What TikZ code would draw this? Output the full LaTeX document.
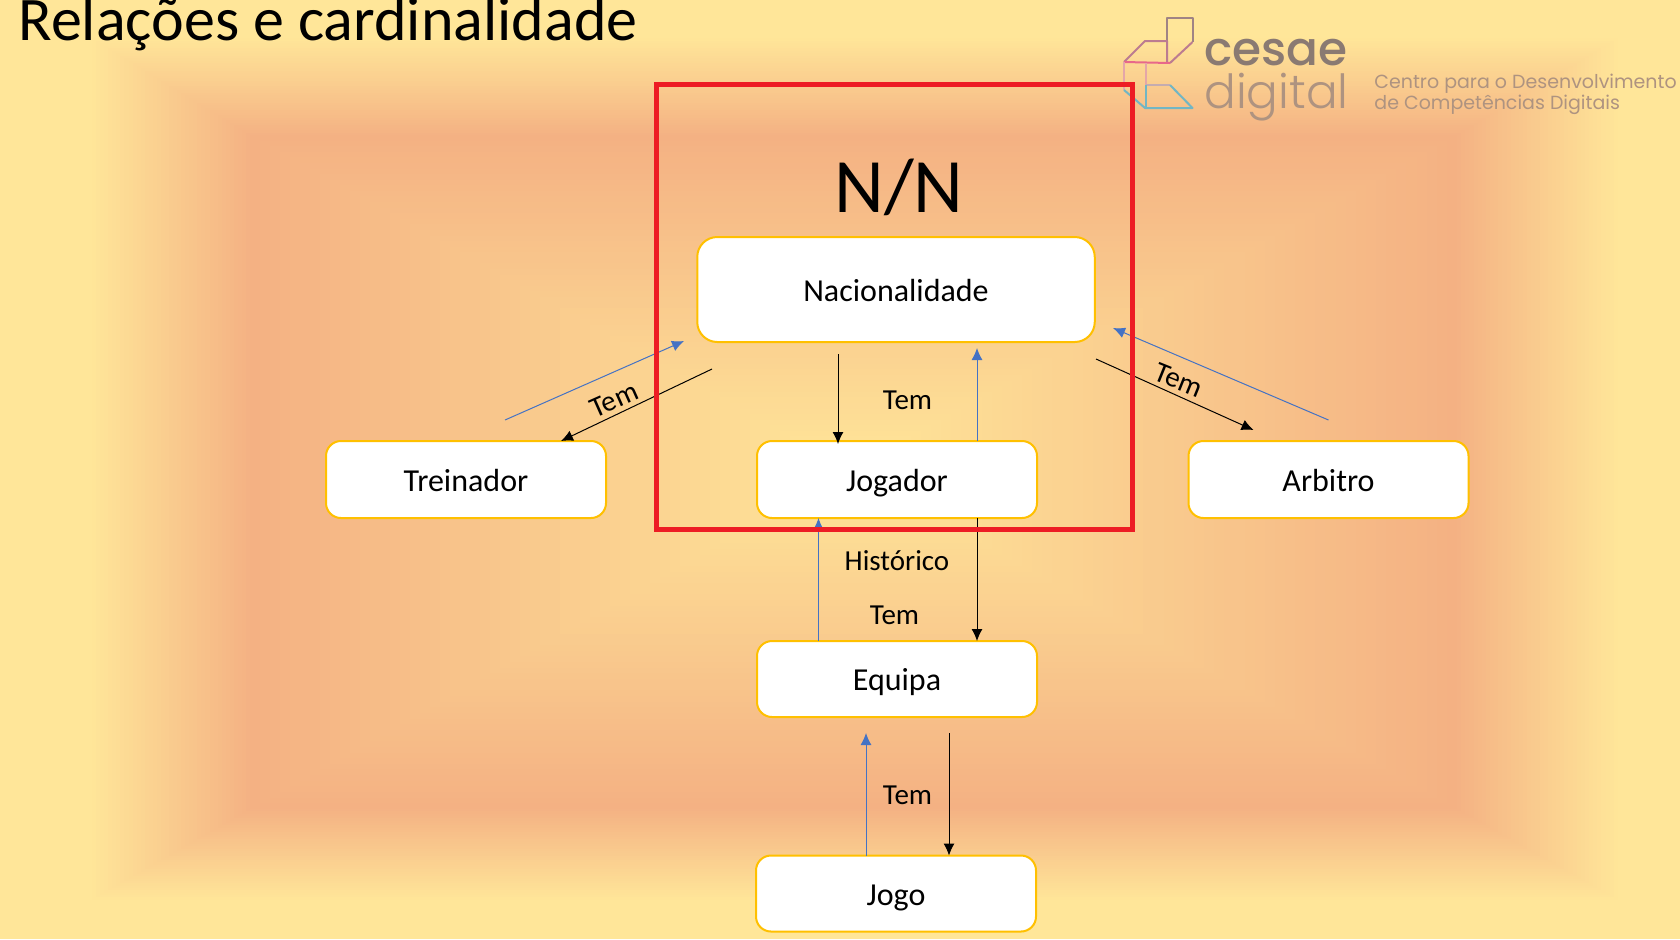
\documentclass[tikz,border=0pt]{standalone}
\usepackage{fontspec}
\setmainfont{Carlito}
\newfontfamily\logofont{Poppins Medium}
\newfontfamily\logolight{Poppins Light}
\newfontfamily\logotext{Poppins}
\usetikzlibrary{arrows.meta}
\definecolor{bglight}{HTML}{FFE699}
\definecolor{bgdark}{HTML}{F4B183}
\definecolor{boxline}{HTML}{FFC000}
\definecolor{arrowblue}{HTML}{4472C4}
\definecolor{framered}{HTML}{ED1C24}
\definecolor{logogrey}{HTML}{8A7A72}
\definecolor{logotan}{HTML}{AE9380}
\definecolor{logotop}{HTML}{A08484}
\definecolor{logomid}{HTML}{BC7C90}
\definecolor{logopink}{HTML}{E8688A}
\definecolor{logorose}{HTML}{E4A6A8}
\definecolor{logohaze}{HTML}{C4ACB0}
\definecolor{logoteal}{HTML}{72B6C4}
\tikzset{
  box/.style={draw=boxline, fill=white, line width=1pt, rounded corners=7.5pt, outer sep=0pt, text height=11.8pt, text depth=0pt, font=\fontsize{16}{18}\selectfont},
  lbl/.style={font=\fontsize{14.5}{17}\selectfont},
  bluearrow/.style={draw=arrowblue, line width=.5pt, -{Latex[length=6pt,width=5.5pt]}},
  blackarrow/.style={draw=black, line width=.5pt, -{Latex[length=6pt,width=5.5pt]}},
  logoline/.style={line width=1pt, line join=round}
}
\begin{document}
\begin{tikzpicture}[x=.5pt,y=-.5pt]
  \useasboundingbox (0,0) rectangle (1680,939);
  % Draw background
  \fill[bglight] (0,0) rectangle (1680,939);
  \foreach \i [evaluate=\i as \p using \i*2.5] in {0,...,40}
    \fill[bgdark!\p!bglight] (88+4.05*\i,36+2.475*\i) rectangle (1622-4.125*\i,902-2.325*\i);
  \foreach \i [evaluate=\i as \p using 100-\i*100/60] in {0,...,60}
    \fill[bgdark!\p!bglight] (250+10*\i,135+5.583*\i) rectangle (1457-10.117*\i,809-5.65*\i);

  % Draw logo
  \draw[logoline,logotop] (1167,41) -- (1167,18) -- (1192.5,18) -- (1192.5,42);
  \draw[logoline,logomid] (1192.5,42) -- (1170,63);
  \draw[logoline,logomid] (1124,62) -- (1145,41) -- (1167,41) -- (1167,63);
  \draw[logoline,logopink] (1124,62) -- (1170,63);
  \draw[logoline,logorose] (1124,62) -- (1124,90);
  \draw[logoline,logorose] (1146,63) -- (1146,85);
  \draw[logoline,logohaze] (1146,85) -- (1170,85);
  \draw[logoline,logoteal] (1170,85) -- (1192.5,108) -- (1145,108) -- (1124,90);
  \draw[logoline,logoteal] (1146,85) -- (1146,108);
  \node[anchor=base west,inner sep=0pt,text=logogrey] (cesae) at (1204,65) {\logofont\fontsize{23.5}{25}\selectfont cesae};
  \node[anchor=base west,inner sep=0pt,text=logotan] (digital) at (1204,108) {\logolight\fontsize{23.5}{25}\selectfont digital};
  \node[anchor=base west,inner sep=0pt,text=logotan] (centro) at (1374,88) {\logotext\fontsize{9.5}{10}\selectfont Centro para o Desenvolvimento};
  \node[anchor=base west,inner sep=0pt,text=logotan] (comp) at (1374,109) {\logotext\fontsize{9.5}{10}\selectfont de Competências Digitais};

  % Draw title
  \node[anchor=base west,inner sep=0pt,font=\fontsize{31}{34}\selectfont] (titulo) at (18,40) {Relações e cardinalidade};

  % Draw boxes
  \node[box,minimum width=198.75pt,minimum height=52.5pt,rounded corners=10pt] (nacionalidade) at (896,289.5) {Nacionalidade};
  \node[box,minimum width=140pt,minimum height=38.5pt] (treinador) at (466,479.5) {Treinador};
  \node[box,minimum width=140pt,minimum height=38.5pt] (jogador) at (897,479.5) {Jogador};
  \node[box,minimum width=140pt,minimum height=38.5pt] (arbitro) at (1328.5,479.5) {Arbitro};
  \node[box,minimum width=140pt,minimum height=38pt] (equipa) at (897,679) {Equipa};
  \node[box,minimum width=140pt,minimum height=38pt] (jogo) at (896,893.5) {Jogo};

  % Free ends of the arrows
  \coordinate (trenac) at (505,420);
  \coordinate (nactre) at (684,341);
  \coordinate (nacfree) at (712,369);
  \coordinate (trefree) at (561,441);
  \coordinate (nacjog) at (838,354);
  \coordinate (jognac) at (977,348);
  \coordinate (nacarb) at (1096,359);
  \coordinate (arbfree) at (1253.5,430);
  \coordinate (arbnac) at (1328.5,420);
  \coordinate (nacend) at (1113,328);
  \coordinate (eqjog) at (818.5,641);
  \coordinate (jogeq) at (977,518);
  \coordinate (jgeq) at (866,733);
  \coordinate (eqjg) at (949,733);

  % Draw arrows
  \draw[bluearrow] (trenac) -- (nactre);
  \draw[blackarrow] (nacfree) -- (trefree);
  \draw[blackarrow,shorten >=-1.5pt] (nacjog) -- (nacjog |- jogador.north);
  \draw[bluearrow] (jognac |- jogador.north) -- (jognac);
  \draw[blackarrow] (nacarb) -- (arbfree);
  \draw[bluearrow] (arbnac) -- (nacend);
  \draw[bluearrow] (eqjog |- equipa.north) -- (eqjog |- jogador.south);
  \draw[blackarrow] (jogeq |- jogador.south) -- (jogeq |- equipa.north);
  \draw[bluearrow] (jgeq |- jogo.north) -- (jgeq);
  \draw[blackarrow] (eqjg) -- (eqjg |- jogo.north);

  % Draw labels
  \node[lbl,rotate=24] (temtre) at (614,400) {Tem};
  \node[lbl] (temjog) at (907.5,400) {Tem};
  \node[lbl,rotate=-22] (temarb) at (1179,380) {Tem};
  \node[lbl] (historico) at (897,561) {Histórico};
  \node[lbl] (temeq) at (894.5,615) {Tem};
  \node[lbl] (temjg) at (907.5,795.5) {Tem};
  \node[font=\fontsize{38.5}{44}\selectfont] (nn) at (899,187) {N/N};

  % Draw frame
  \draw[framered,line width=2.5pt] (656,84) rectangle (1132,529);
\end{tikzpicture}
\end{document}
